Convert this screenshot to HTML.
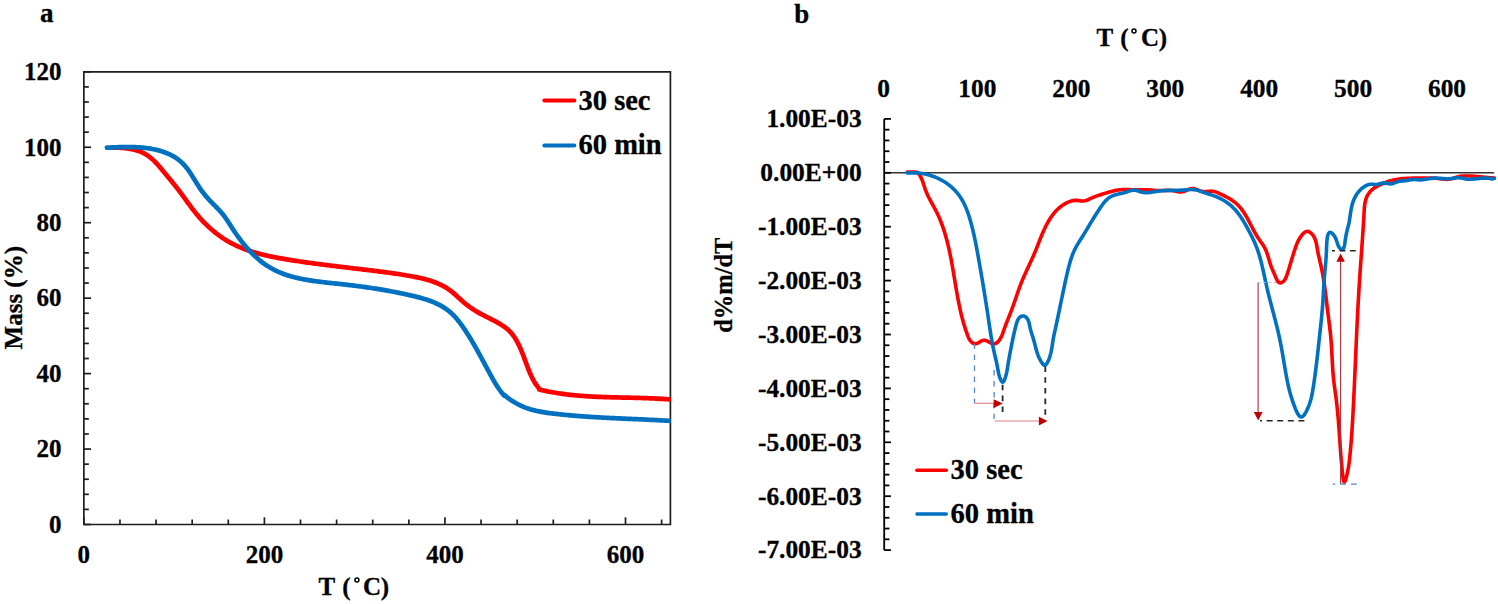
<!DOCTYPE html><html><head><meta charset="utf-8"><style>html,body{margin:0;padding:0;background:#fff;}svg{display:block;}text{font-family:"Liberation Serif",serif;font-weight:bold;fill:#000;stroke:#000;stroke-width:0.3;}</style></head><body>
<svg width="1498" height="604" viewBox="0 0 1498 604">
<rect width="1498" height="604" fill="#fff"/>
<g stroke="#1e1e1e" stroke-width="1.7" fill="none">
<path d="M83.85,71.80 V524.50 H670.40 V71.80 Z"/>
<path d="M83.85,524.50 h7.20"/>
<path d="M83.85,509.41 h5.00"/>
<path d="M83.85,494.32 h5.00"/>
<path d="M83.85,479.23 h5.00"/>
<path d="M83.85,464.14 h5.00"/>
<path d="M83.85,449.05 h7.20"/>
<path d="M83.85,433.96 h5.00"/>
<path d="M83.85,418.87 h5.00"/>
<path d="M83.85,403.78 h5.00"/>
<path d="M83.85,388.69 h5.00"/>
<path d="M83.85,373.60 h7.20"/>
<path d="M83.85,358.51 h5.00"/>
<path d="M83.85,343.42 h5.00"/>
<path d="M83.85,328.33 h5.00"/>
<path d="M83.85,313.24 h5.00"/>
<path d="M83.85,298.15 h7.20"/>
<path d="M83.85,283.06 h5.00"/>
<path d="M83.85,267.97 h5.00"/>
<path d="M83.85,252.88 h5.00"/>
<path d="M83.85,237.79 h5.00"/>
<path d="M83.85,222.70 h7.20"/>
<path d="M83.85,207.61 h5.00"/>
<path d="M83.85,192.52 h5.00"/>
<path d="M83.85,177.43 h5.00"/>
<path d="M83.85,162.34 h5.00"/>
<path d="M83.85,147.25 h7.20"/>
<path d="M83.85,132.16 h5.00"/>
<path d="M83.85,117.07 h5.00"/>
<path d="M83.85,101.98 h5.00"/>
<path d="M83.85,86.89 h5.00"/>
<path d="M83.85,71.80 h7.20"/>
<path d="M83.85,524.50 v-7.20"/>
<path d="M119.96,524.50 v-5.00"/>
<path d="M156.07,524.50 v-5.00"/>
<path d="M192.18,524.50 v-5.00"/>
<path d="M228.29,524.50 v-5.00"/>
<path d="M264.40,524.50 v-7.20"/>
<path d="M300.51,524.50 v-5.00"/>
<path d="M336.62,524.50 v-5.00"/>
<path d="M372.73,524.50 v-5.00"/>
<path d="M408.84,524.50 v-5.00"/>
<path d="M444.95,524.50 v-7.20"/>
<path d="M481.06,524.50 v-5.00"/>
<path d="M517.17,524.50 v-5.00"/>
<path d="M553.28,524.50 v-5.00"/>
<path d="M589.39,524.50 v-5.00"/>
<path d="M625.50,524.50 v-7.20"/>
<path d="M661.61,524.50 v-5.00"/>
</g>
<text x="61.50" y="532.80" font-size="25" text-anchor="end">0</text>
<text x="61.50" y="457.35" font-size="25" text-anchor="end">20</text>
<text x="61.50" y="381.90" font-size="25" text-anchor="end">40</text>
<text x="61.50" y="306.45" font-size="25" text-anchor="end">60</text>
<text x="61.50" y="231.00" font-size="25" text-anchor="end">80</text>
<text x="61.50" y="155.55" font-size="25" text-anchor="end">100</text>
<text x="61.50" y="80.10" font-size="25" text-anchor="end">120</text>
<text x="83.85" y="563.30" font-size="25" text-anchor="middle">0</text>
<text x="264.40" y="563.30" font-size="25" text-anchor="middle">200</text>
<text x="444.95" y="563.30" font-size="25" text-anchor="middle">400</text>
<text x="625.50" y="563.30" font-size="25" text-anchor="middle">600</text>
<clipPath id="ca"><rect x="0" y="0" width="670.70" height="604"/></clipPath>
<g fill="none" stroke-width="4.7" stroke-linecap="round" stroke-linejoin="round" clip-path="url(#ca)">
<path stroke="#ff0000" d="M111.89,147.64 L113.37,147.63 L114.87,147.64 L116.37,147.66 L117.89,147.70 L119.41,147.76 L120.94,147.84 L122.47,147.95 L124.01,148.08 L125.54,148.23 L127.06,148.42 L128.58,148.63 L130.10,148.88 L131.60,149.16 L133.09,149.47 L134.56,149.83 L136.01,150.22 L137.45,150.65 L138.86,151.12 L140.25,151.64 L141.61,152.20 L142.95,152.81 L144.25,153.47 L145.52,154.19 L146.75,154.95 L147.96,155.76 L149.13,156.61 L150.28,157.50 L151.40,158.44 L152.50,159.40 L153.57,160.40 L154.63,161.43 L155.67,162.49 L156.69,163.57 L157.70,164.67 L158.69,165.79 L159.68,166.93 L160.65,168.07 L161.63,169.23 L162.59,170.39 L163.56,171.56 L164.52,172.72 L165.48,173.89 L166.45,175.05 L167.41,176.22 L168.37,177.38 L169.34,178.54 L170.29,179.71 L171.25,180.87 L172.20,182.04 L173.15,183.20 L174.10,184.37 L175.04,185.55 L175.97,186.72 L176.90,187.90 L177.82,189.08 L178.74,190.27 L179.65,191.46 L180.54,192.65 L181.44,193.85 L182.32,195.05 L183.20,196.26 L184.08,197.47 L184.95,198.68 L185.83,199.89 L186.70,201.10 L187.57,202.31 L188.45,203.51 L189.33,204.72 L190.21,205.92 L191.10,207.12 L192.00,208.31 L192.91,209.50 L193.82,210.68 L194.75,211.85 L195.69,213.02 L196.64,214.18 L197.61,215.33 L198.58,216.46 L199.57,217.59 L200.58,218.71 L201.60,219.82 L202.63,220.92 L203.67,222.01 L204.72,223.08 L205.79,224.14 L206.87,225.19 L207.96,226.23 L209.07,227.25 L210.18,228.26 L211.31,229.26 L212.45,230.24 L213.60,231.20 L214.76,232.15 L215.94,233.09 L217.12,234.00 L218.32,234.90 L219.53,235.79 L220.74,236.65 L221.97,237.50 L223.21,238.33 L224.47,239.14 L225.73,239.93 L227.00,240.70 L228.28,241.45 L229.57,242.18 L230.88,242.89 L232.19,243.58 L233.51,244.25 L234.84,244.91 L236.18,245.54 L237.53,246.16 L238.88,246.76 L240.25,247.34 L241.62,247.91 L243.00,248.46 L244.39,248.99 L245.78,249.51 L247.18,250.02 L248.59,250.51 L250.01,250.98 L251.43,251.44 L252.85,251.89 L254.29,252.32 L255.72,252.74 L257.17,253.15 L258.61,253.55 L260.07,253.94 L261.52,254.31 L262.98,254.68 L264.45,255.03 L265.92,255.38 L267.39,255.71 L268.86,256.04 L270.34,256.35 L271.82,256.66 L273.30,256.96 L274.79,257.26 L276.28,257.54 L277.76,257.82 L279.25,258.10 L280.74,258.37 L282.24,258.63 L283.73,258.89 L285.22,259.14 L286.71,259.39 L288.20,259.63 L289.70,259.87 L291.19,260.11 L292.68,260.35 L294.17,260.58 L295.66,260.81 L297.15,261.04 L298.63,261.26 L300.12,261.48 L301.61,261.70 L303.10,261.92 L304.58,262.13 L306.07,262.34 L307.55,262.55 L309.04,262.76 L310.52,262.96 L312.01,263.17 L313.49,263.37 L314.97,263.57 L316.45,263.77 L317.94,263.96 L319.42,264.16 L320.90,264.35 L322.38,264.54 L323.87,264.73 L325.35,264.92 L326.83,265.10 L328.31,265.29 L329.79,265.47 L331.27,265.66 L332.75,265.84 L334.23,266.02 L335.71,266.20 L337.19,266.38 L338.68,266.56 L340.16,266.74 L341.64,266.91 L343.12,267.09 L344.60,267.27 L346.08,267.44 L347.56,267.62 L349.04,267.79 L350.52,267.97 L352.01,268.14 L353.49,268.32 L354.97,268.49 L356.45,268.67 L357.94,268.84 L359.42,269.02 L360.90,269.20 L362.39,269.37 L363.87,269.55 L365.36,269.73 L366.84,269.90 L368.33,270.08 L369.81,270.26 L371.30,270.44 L372.79,270.62 L374.27,270.80 L375.76,270.99 L377.25,271.17 L378.74,271.36 L380.23,271.55 L381.72,271.74 L383.21,271.93 L384.69,272.13 L386.18,272.32 L387.68,272.52 L389.17,272.73 L390.66,272.93 L392.15,273.14 L393.64,273.36 L395.13,273.58 L396.62,273.80 L398.11,274.02 L399.60,274.25 L401.09,274.48 L402.58,274.72 L404.07,274.97 L405.57,275.21 L407.06,275.47 L408.55,275.72 L410.04,275.99 L411.53,276.26 L413.02,276.53 L414.50,276.82 L415.99,277.11 L417.47,277.42 L418.95,277.73 L420.42,278.06 L421.89,278.40 L423.35,278.76 L424.81,279.13 L426.26,279.52 L427.70,279.92 L429.13,280.35 L430.56,280.79 L431.97,281.26 L433.37,281.74 L434.76,282.25 L436.14,282.79 L437.51,283.35 L438.86,283.94 L440.20,284.55 L441.52,285.19 L442.83,285.87 L444.13,286.57 L445.40,287.30 L446.66,288.07 L447.90,288.87 L449.12,289.71 L450.32,290.58 L451.51,291.49 L452.68,292.43 L453.83,293.39 L454.97,294.37 L456.11,295.37 L457.23,296.38 L458.36,297.40 L459.48,298.42 L460.60,299.44 L461.72,300.46 L462.85,301.46 L463.98,302.46 L465.12,303.43 L466.28,304.39 L467.45,305.31 L468.63,306.21 L469.82,307.09 L471.03,307.94 L472.26,308.77 L473.49,309.58 L474.74,310.37 L476.00,311.14 L477.28,311.89 L478.56,312.63 L479.86,313.36 L481.17,314.07 L482.49,314.77 L483.82,315.46 L485.16,316.15 L486.50,316.83 L487.85,317.51 L489.21,318.18 L490.56,318.86 L491.91,319.54 L493.25,320.23 L494.59,320.93 L495.91,321.63 L497.23,322.36 L498.52,323.09 L499.80,323.85 L501.06,324.62 L502.30,325.42 L503.52,326.24 L504.70,327.09 L505.86,327.97 L506.98,328.88 L508.07,329.82 L509.12,330.80 L510.14,331.82 L511.11,332.88 L512.04,333.98 L512.94,335.11 L513.80,336.28 L514.62,337.48 L515.42,338.71 L516.18,339.97 L516.92,341.26 L517.63,342.57 L518.32,343.90 L518.98,345.26 L519.63,346.64 L520.25,348.03 L520.86,349.44 L521.45,350.86 L522.03,352.30 L522.60,353.75 L523.16,355.20 L523.71,356.66 L524.25,358.12 L524.79,359.59 L525.33,361.06 L525.87,362.53 L526.41,363.99 L526.95,365.45 L527.50,366.91 L528.06,368.35 L528.62,369.79 L529.20,371.21 L529.79,372.62 L530.39,374.01 L531.01,375.38 L531.65,376.74 L532.30,378.07 L532.98,379.38 L533.68,380.66 L534.41,381.92 L535.17,383.15 L535.95,384.34 L536.77,385.51 L537.62,386.64 L538.50,387.73 L539.43,388.78 L539.33,389.55 L540.77,389.89 L542.22,390.23 L543.67,390.55 L545.11,390.86 L546.57,391.17 L548.02,391.46 L549.47,391.75 L550.93,392.02 L552.39,392.29 L553.85,392.54 L555.31,392.79 L556.77,393.03 L558.23,393.26 L559.69,393.48 L561.16,393.69 L562.63,393.89 L564.10,394.09 L565.56,394.28 L567.04,394.46 L568.51,394.63 L569.98,394.80 L571.45,394.96 L572.93,395.11 L574.40,395.26 L575.88,395.40 L577.36,395.53 L578.84,395.66 L580.32,395.78 L581.80,395.89 L583.28,396.00 L584.76,396.11 L586.24,396.21 L587.73,396.30 L589.21,396.39 L590.70,396.48 L592.18,396.56 L593.67,396.63 L595.15,396.71 L596.64,396.78 L598.13,396.84 L599.62,396.90 L601.11,396.96 L602.59,397.02 L604.08,397.07 L605.57,397.12 L607.06,397.17 L608.55,397.21 L610.04,397.26 L611.53,397.30 L613.02,397.34 L614.52,397.37 L616.01,397.41 L617.50,397.44 L618.99,397.48 L620.48,397.51 L621.97,397.54 L623.46,397.58 L624.95,397.61 L626.44,397.64 L627.94,397.67 L629.43,397.70 L630.92,397.74 L632.41,397.77 L633.90,397.80 L635.39,397.84 L636.88,397.88 L638.36,397.91 L639.85,397.95 L641.34,398.00 L642.83,398.04 L644.32,398.08 L645.80,398.13 L647.29,398.18 L648.77,398.23 L650.26,398.29 L651.74,398.35 L653.23,398.41 L654.71,398.48 L656.19,398.55 L657.67,398.62 L659.15,398.70 L660.63,398.78 L662.11,398.87 L663.59,398.96 L665.07,399.05 L666.54,399.15 L668.02,399.26 L669.49,399.37 L670.96,399.49"/>
<path stroke="#0070c0" d="M106.91,147.71 L108.30,147.64 L109.71,147.57 L111.14,147.49 L112.58,147.42 L114.03,147.36 L115.49,147.30 L116.97,147.24 L118.45,147.18 L119.95,147.14 L121.45,147.10 L122.96,147.07 L124.48,147.04 L126.01,147.03 L127.54,147.02 L129.07,147.03 L130.61,147.05 L132.15,147.08 L133.70,147.12 L135.24,147.18 L136.78,147.25 L138.33,147.34 L139.87,147.44 L141.41,147.56 L142.94,147.70 L144.47,147.86 L146.00,148.03 L147.52,148.23 L149.04,148.45 L150.54,148.69 L152.04,148.95 L153.53,149.23 L155.01,149.54 L156.47,149.87 L157.93,150.23 L159.37,150.62 L160.80,151.03 L162.22,151.47 L163.62,151.94 L165.00,152.44 L166.37,152.97 L167.71,153.52 L169.04,154.12 L170.35,154.74 L171.64,155.40 L172.91,156.09 L174.16,156.81 L175.38,157.58 L176.58,158.37 L177.75,159.21 L178.90,160.08 L180.02,160.99 L181.12,161.95 L182.18,162.94 L183.22,163.97 L184.23,165.04 L185.21,166.16 L186.16,167.31 L187.09,168.49 L187.99,169.71 L188.88,170.94 L189.75,172.21 L190.60,173.49 L191.44,174.78 L192.28,176.09 L193.10,177.41 L193.92,178.73 L194.73,180.05 L195.54,181.37 L196.36,182.69 L197.17,184.00 L198.00,185.29 L198.83,186.57 L199.67,187.83 L200.52,189.07 L201.38,190.30 L202.26,191.50 L203.15,192.68 L204.06,193.85 L204.98,195.01 L205.92,196.15 L206.88,197.27 L207.86,198.38 L208.85,199.48 L209.87,200.57 L210.90,201.66 L211.94,202.73 L212.99,203.80 L214.05,204.87 L215.10,205.94 L216.16,207.01 L217.20,208.09 L218.24,209.17 L219.27,210.26 L220.28,211.36 L221.27,212.48 L222.24,213.61 L223.18,214.76 L224.09,215.92 L224.97,217.11 L225.83,218.31 L226.67,219.53 L227.49,220.75 L228.30,221.99 L229.10,223.24 L229.90,224.49 L230.69,225.75 L231.49,227.01 L232.30,228.27 L233.11,229.52 L233.94,230.78 L234.78,232.03 L235.63,233.28 L236.49,234.52 L237.36,235.75 L238.25,236.98 L239.14,238.21 L240.05,239.42 L240.97,240.63 L241.90,241.83 L242.85,243.02 L243.80,244.20 L244.77,245.37 L245.75,246.53 L246.74,247.68 L247.75,248.81 L248.76,249.93 L249.79,251.04 L250.83,252.13 L251.89,253.21 L252.95,254.27 L254.03,255.31 L255.12,256.34 L256.23,257.35 L257.34,258.34 L258.47,259.31 L259.61,260.26 L260.77,261.20 L261.94,262.11 L263.12,263.00 L264.31,263.86 L265.52,264.71 L266.74,265.53 L267.97,266.33 L269.22,267.10 L270.48,267.84 L271.75,268.56 L273.04,269.26 L274.34,269.93 L275.65,270.57 L276.97,271.20 L278.31,271.80 L279.66,272.37 L281.01,272.93 L282.38,273.47 L283.76,273.98 L285.15,274.47 L286.54,274.95 L287.95,275.41 L289.36,275.84 L290.79,276.26 L292.22,276.67 L293.66,277.05 L295.11,277.43 L296.56,277.78 L298.02,278.12 L299.49,278.45 L300.96,278.76 L302.44,279.06 L303.92,279.35 L305.41,279.63 L306.91,279.89 L308.40,280.14 L309.91,280.39 L311.41,280.62 L312.92,280.85 L314.43,281.06 L315.95,281.27 L317.47,281.47 L318.99,281.67 L320.51,281.86 L322.03,282.04 L323.55,282.22 L325.07,282.40 L326.60,282.57 L328.12,282.73 L329.64,282.90 L331.17,283.06 L332.69,283.22 L334.21,283.38 L335.73,283.54 L337.24,283.70 L338.75,283.86 L340.26,284.03 L341.77,284.19 L343.27,284.36 L344.78,284.53 L346.27,284.70 L347.77,284.87 L349.26,285.05 L350.75,285.22 L352.24,285.40 L353.72,285.59 L355.21,285.77 L356.69,285.96 L358.17,286.15 L359.64,286.35 L361.12,286.54 L362.59,286.74 L364.06,286.95 L365.53,287.15 L367.00,287.36 L368.47,287.57 L369.94,287.79 L371.40,288.01 L372.87,288.23 L374.33,288.46 L375.79,288.69 L377.25,288.92 L378.72,289.16 L380.18,289.40 L381.64,289.64 L383.10,289.89 L384.56,290.14 L386.02,290.40 L387.48,290.66 L388.94,290.92 L390.40,291.19 L391.86,291.46 L393.32,291.74 L394.78,292.02 L396.25,292.31 L397.71,292.60 L399.18,292.90 L400.64,293.20 L402.11,293.50 L403.58,293.81 L405.05,294.13 L406.52,294.45 L407.99,294.77 L409.46,295.10 L410.94,295.44 L412.42,295.78 L413.89,296.13 L415.37,296.49 L416.84,296.86 L418.31,297.24 L419.78,297.63 L421.24,298.03 L422.70,298.45 L424.15,298.88 L425.59,299.33 L427.02,299.79 L428.45,300.28 L429.86,300.78 L431.27,301.31 L432.66,301.85 L434.04,302.42 L435.40,303.01 L436.76,303.63 L438.09,304.27 L439.41,304.94 L440.71,305.64 L442.00,306.36 L443.26,307.12 L444.51,307.91 L445.73,308.73 L446.93,309.58 L448.11,310.47 L449.27,311.39 L450.40,312.35 L451.51,313.35 L452.59,314.38 L453.65,315.44 L454.69,316.53 L455.71,317.65 L456.70,318.79 L457.68,319.96 L458.64,321.15 L459.58,322.35 L460.51,323.58 L461.42,324.82 L462.31,326.07 L463.19,327.33 L464.05,328.59 L464.91,329.87 L465.75,331.15 L466.58,332.42 L467.40,333.70 L468.21,334.99 L469.01,336.27 L469.80,337.55 L470.58,338.83 L471.36,340.12 L472.12,341.41 L472.88,342.69 L473.64,343.98 L474.38,345.27 L475.12,346.56 L475.86,347.86 L476.59,349.15 L477.31,350.45 L478.03,351.74 L478.75,353.04 L479.46,354.34 L480.17,355.64 L480.88,356.94 L481.59,358.25 L482.29,359.55 L483.00,360.86 L483.70,362.16 L484.40,363.47 L485.10,364.78 L485.81,366.10 L486.51,367.41 L487.22,368.73 L487.93,370.04 L488.64,371.36 L489.35,372.68 L490.07,374.01 L490.79,375.33 L491.52,376.65 L492.25,377.97 L492.99,379.29 L493.74,380.61 L494.50,381.91 L495.28,383.21 L496.06,384.50 L496.86,385.78 L497.68,387.04 L498.52,388.30 L499.37,389.53 L500.25,390.75 L501.14,391.95 L502.06,393.13 L503.00,394.29 L503.97,395.43 L504.16,394.90 L505.36,395.90 L506.57,396.87 L507.79,397.81 L509.02,398.73 L510.26,399.61 L511.51,400.46 L512.78,401.28 L514.05,402.07 L515.34,402.83 L516.63,403.56 L517.94,404.27 L519.26,404.94 L520.59,405.58 L521.93,406.19 L523.29,406.77 L524.65,407.32 L526.02,407.84 L527.40,408.33 L528.79,408.80 L530.19,409.23 L531.60,409.64 L533.02,410.03 L534.45,410.39 L535.88,410.74 L537.32,411.06 L538.77,411.36 L540.22,411.64 L541.67,411.91 L543.14,412.16 L544.60,412.40 L546.07,412.63 L547.54,412.84 L549.02,413.05 L550.50,413.24 L551.97,413.43 L553.46,413.61 L554.94,413.78 L556.42,413.95 L557.90,414.12 L559.38,414.28 L560.87,414.44 L562.35,414.59 L563.83,414.74 L565.32,414.89 L566.80,415.03 L568.29,415.17 L569.77,415.31 L571.26,415.44 L572.75,415.57 L574.23,415.70 L575.72,415.82 L577.21,415.94 L578.69,416.06 L580.18,416.18 L581.67,416.29 L583.16,416.40 L584.64,416.50 L586.13,416.61 L587.62,416.71 L589.11,416.80 L590.60,416.90 L592.09,417.00 L593.58,417.09 L595.06,417.18 L596.55,417.27 L598.04,417.35 L599.53,417.44 L601.02,417.52 L602.51,417.60 L604.00,417.68 L605.49,417.76 L606.98,417.83 L608.47,417.91 L609.96,417.98 L611.45,418.05 L612.94,418.13 L614.44,418.20 L615.93,418.27 L617.42,418.33 L618.91,418.40 L620.40,418.47 L621.89,418.54 L623.38,418.60 L624.87,418.67 L626.36,418.73 L627.85,418.80 L629.34,418.86 L630.83,418.93 L632.32,418.99 L633.81,419.06 L635.30,419.12 L636.78,419.19 L638.27,419.26 L639.76,419.32 L641.25,419.39 L642.74,419.46 L644.23,419.52 L645.72,419.59 L647.20,419.66 L648.69,419.73 L650.18,419.80 L651.67,419.88 L653.15,419.95 L654.64,420.02 L656.13,420.10 L657.61,420.18 L659.10,420.26 L660.59,420.34 L662.07,420.42 L663.56,420.50 L665.04,420.59 L666.52,420.67 L668.01,420.76 L669.49,420.86 L670.97,420.95"/>
</g>
<g stroke-width="4" stroke-linecap="round">
<path stroke="#ff0000" d="M544.40,100.60 H574.30"/>
<path stroke="#0070c0" d="M544.40,145.40 H574.30"/>
</g>
<text x="578.50" y="109.60" font-size="28.5">30 sec</text>
<text x="578.50" y="153.50" font-size="28.5">60 min</text>
<text x="40.00" y="22.30" font-size="27">a</text>
<text x="326.80" y="594.60" font-size="25" text-anchor="middle">T</text>
<text x="346.50" y="594.60" font-size="25" text-anchor="middle">(</text>
<text x="372.00" y="594.60" font-size="25" text-anchor="middle">C</text>
<text x="384.95" y="594.60" font-size="25" text-anchor="middle">)</text>
<circle cx="356.90" cy="579.90" r="2.0" fill="none" stroke="#000" stroke-width="1.5"/>
<text transform="translate(22.00,297.70) rotate(-90)" font-size="25" text-anchor="middle">Mass (%)</text>
<path d="M884.20,172.80 H1494.20" stroke="#333" stroke-width="1.5"/>
<g stroke="#000" stroke-width="1.8" fill="none">
<path d="M884.20,118.90 V550.10"/>
<path d="M884.20,118.90 h6.70"/>
<path d="M884.20,129.68 h5.20"/>
<path d="M884.20,140.46 h5.20"/>
<path d="M884.20,151.24 h5.20"/>
<path d="M884.20,162.02 h5.20"/>
<path d="M884.20,172.80 h6.70"/>
<path d="M884.20,183.58 h5.20"/>
<path d="M884.20,194.36 h5.20"/>
<path d="M884.20,205.14 h5.20"/>
<path d="M884.20,215.92 h5.20"/>
<path d="M884.20,226.70 h6.70"/>
<path d="M884.20,237.48 h5.20"/>
<path d="M884.20,248.26 h5.20"/>
<path d="M884.20,259.04 h5.20"/>
<path d="M884.20,269.82 h5.20"/>
<path d="M884.20,280.60 h6.70"/>
<path d="M884.20,291.38 h5.20"/>
<path d="M884.20,302.16 h5.20"/>
<path d="M884.20,312.94 h5.20"/>
<path d="M884.20,323.72 h5.20"/>
<path d="M884.20,334.50 h6.70"/>
<path d="M884.20,345.28 h5.20"/>
<path d="M884.20,356.06 h5.20"/>
<path d="M884.20,366.84 h5.20"/>
<path d="M884.20,377.62 h5.20"/>
<path d="M884.20,388.40 h6.70"/>
<path d="M884.20,399.18 h5.20"/>
<path d="M884.20,409.96 h5.20"/>
<path d="M884.20,420.74 h5.20"/>
<path d="M884.20,431.52 h5.20"/>
<path d="M884.20,442.30 h6.70"/>
<path d="M884.20,453.08 h5.20"/>
<path d="M884.20,463.86 h5.20"/>
<path d="M884.20,474.64 h5.20"/>
<path d="M884.20,485.42 h5.20"/>
<path d="M884.20,496.20 h6.70"/>
<path d="M884.20,506.98 h5.20"/>
<path d="M884.20,517.76 h5.20"/>
<path d="M884.20,528.54 h5.20"/>
<path d="M884.20,539.32 h5.20"/>
<path d="M884.20,550.10 h6.70"/>
</g>
<text x="861.60" y="127.20" font-size="25.4" text-anchor="end">1.00E-03</text>
<text x="861.60" y="181.10" font-size="25.4" text-anchor="end">0.00E+00</text>
<text x="861.60" y="235.00" font-size="25.4" text-anchor="end">-1.00E-03</text>
<text x="861.60" y="288.90" font-size="25.4" text-anchor="end">-2.00E-03</text>
<text x="861.60" y="342.80" font-size="25.4" text-anchor="end">-3.00E-03</text>
<text x="861.60" y="396.70" font-size="25.4" text-anchor="end">-4.00E-03</text>
<text x="861.60" y="450.60" font-size="25.4" text-anchor="end">-5.00E-03</text>
<text x="861.60" y="504.50" font-size="25.4" text-anchor="end">-6.00E-03</text>
<text x="861.60" y="558.40" font-size="25.4" text-anchor="end">-7.00E-03</text>
<text x="883.50" y="97.00" font-size="25.4" text-anchor="middle">0</text>
<text x="977.42" y="97.00" font-size="25.4" text-anchor="middle">100</text>
<text x="1071.34" y="97.00" font-size="25.4" text-anchor="middle">200</text>
<text x="1165.26" y="97.00" font-size="25.4" text-anchor="middle">300</text>
<text x="1259.18" y="97.00" font-size="25.4" text-anchor="middle">400</text>
<text x="1353.10" y="97.00" font-size="25.4" text-anchor="middle">500</text>
<text x="1447.02" y="97.00" font-size="25.4" text-anchor="middle">600</text>
<g fill="none" stroke-width="3.6" stroke-linecap="round" stroke-linejoin="round">
<path stroke="#ff0000" d="M907.30,172.00 L915.40,172.10 L915.42,172.07 L917.02,172.34 L918.22,173.17 L919.15,174.31 L919.95,175.55 L920.67,176.84 L921.32,178.17 L921.91,179.53 L922.46,180.92 L922.97,182.33 L923.45,183.76 L923.91,185.20 L924.38,186.64 L924.85,188.08 L925.34,189.51 L925.86,190.92 L926.41,192.32 L927.00,193.70 L927.62,195.07 L928.27,196.42 L928.93,197.77 L929.62,199.10 L930.32,200.43 L931.03,201.75 L931.76,203.06 L932.48,204.37 L933.21,205.69 L933.93,207.00 L934.65,208.32 L935.35,209.64 L936.05,210.97 L936.72,212.30 L937.38,213.65 L938.02,215.00 L938.64,216.36 L939.24,217.73 L939.83,219.11 L940.40,220.49 L940.95,221.88 L941.49,223.28 L942.01,224.68 L942.52,226.09 L943.02,227.51 L943.50,228.93 L943.97,230.35 L944.42,231.78 L944.86,233.21 L945.29,234.65 L945.71,236.09 L946.12,237.53 L946.51,238.98 L946.90,240.43 L947.27,241.88 L947.64,243.33 L948.00,244.79 L948.34,246.25 L948.68,247.71 L949.01,249.17 L949.33,250.63 L949.65,252.10 L949.96,253.57 L950.26,255.04 L950.55,256.51 L950.84,257.98 L951.12,259.45 L951.40,260.93 L951.68,262.40 L951.94,263.88 L952.21,265.36 L952.47,266.83 L952.73,268.31 L952.98,269.79 L953.24,271.27 L953.49,272.75 L953.74,274.23 L953.98,275.71 L954.23,277.19 L954.47,278.68 L954.72,280.16 L954.97,281.64 L955.21,283.12 L955.46,284.60 L955.71,286.08 L955.96,287.56 L956.21,289.04 L956.46,290.52 L956.72,292.00 L956.98,293.47 L957.25,294.95 L957.52,296.42 L957.79,297.90 L958.07,299.37 L958.35,300.84 L958.64,302.31 L958.93,303.78 L959.23,305.24 L959.54,306.71 L959.85,308.17 L960.17,309.63 L960.50,311.09 L960.84,312.55 L961.18,314.00 L961.54,315.45 L961.90,316.90 L962.28,318.35 L962.66,319.80 L963.06,321.24 L963.46,322.68 L963.88,324.11 L964.30,325.55 L964.74,326.98 L965.20,328.41 L965.66,329.83 L966.14,331.25 L966.63,332.67 L967.14,334.08 L967.66,335.49 L968.21,336.89 L968.82,338.27 L969.55,339.60 L970.43,340.86 L971.50,342.04 L972.73,343.02 L974.07,343.66 L975.45,343.83 L976.86,343.54 L978.26,342.91 L979.64,342.05 L981.01,341.18 L982.37,340.49 L983.73,340.20 L985.09,340.29 L986.45,340.69 L987.83,341.32 L989.23,342.10 L990.65,342.92 L992.08,343.61 L993.48,343.95 L994.83,343.81 L996.11,343.25 L997.31,342.38 L998.40,341.29 L999.37,340.08 L1000.21,338.82 L1000.95,337.51 L1001.60,336.16 L1002.18,334.77 L1002.72,333.37 L1003.21,331.95 L1003.70,330.53 L1004.19,329.11 L1004.69,327.70 L1005.21,326.29 L1005.74,324.88 L1006.28,323.48 L1006.82,322.09 L1007.37,320.69 L1007.93,319.30 L1008.48,317.91 L1009.04,316.52 L1009.59,315.12 L1010.15,313.73 L1010.69,312.34 L1011.23,310.94 L1011.76,309.54 L1012.28,308.13 L1012.79,306.72 L1013.30,305.31 L1013.80,303.90 L1014.29,302.48 L1014.78,301.07 L1015.27,299.65 L1015.75,298.23 L1016.24,296.81 L1016.72,295.39 L1017.21,293.97 L1017.70,292.55 L1018.19,291.14 L1018.69,289.73 L1019.20,288.32 L1019.72,286.91 L1020.24,285.50 L1020.78,284.10 L1021.32,282.71 L1021.88,281.32 L1022.45,279.93 L1023.04,278.55 L1023.63,277.18 L1024.24,275.81 L1024.85,274.44 L1025.47,273.07 L1026.09,271.71 L1026.72,270.35 L1027.35,268.99 L1027.99,267.63 L1028.62,266.27 L1029.26,264.91 L1029.89,263.55 L1030.53,262.19 L1031.15,260.83 L1031.78,259.47 L1032.39,258.11 L1033.00,256.75 L1033.60,255.38 L1034.20,254.01 L1034.78,252.63 L1035.34,251.25 L1035.91,249.87 L1036.46,248.48 L1037.01,247.10 L1037.55,245.71 L1038.09,244.32 L1038.64,242.92 L1039.18,241.53 L1039.73,240.14 L1040.28,238.74 L1040.84,237.35 L1041.41,235.96 L1041.99,234.56 L1042.58,233.17 L1043.18,231.79 L1043.79,230.40 L1044.43,229.03 L1045.08,227.66 L1045.74,226.30 L1046.43,224.95 L1047.13,223.62 L1047.86,222.30 L1048.61,221.00 L1049.39,219.71 L1050.19,218.45 L1051.02,217.20 L1051.88,215.98 L1052.76,214.79 L1053.68,213.61 L1054.63,212.47 L1055.61,211.36 L1056.62,210.28 L1057.67,209.24 L1058.76,208.23 L1059.89,207.26 L1061.06,206.34 L1062.26,205.46 L1063.52,204.63 L1064.81,203.85 L1066.15,203.12 L1067.54,202.44 L1068.96,201.83 L1070.42,201.30 L1071.90,200.88 L1073.40,200.56 L1074.90,200.37 L1076.40,200.33 L1077.89,200.44 L1079.37,200.64 L1080.84,200.85 L1082.29,200.99 L1083.73,200.98 L1085.15,200.76 L1086.55,200.35 L1087.95,199.80 L1089.34,199.16 L1090.73,198.49 L1092.12,197.84 L1093.52,197.24 L1094.92,196.68 L1096.32,196.15 L1097.73,195.66 L1099.14,195.18 L1100.56,194.72 L1101.98,194.28 L1103.40,193.83 L1104.83,193.39 L1106.27,192.95 L1107.70,192.52 L1109.14,192.10 L1110.59,191.70 L1112.04,191.32 L1113.50,190.96 L1114.96,190.63 L1116.42,190.34 L1117.89,190.08 L1119.37,189.86 L1120.85,189.68 L1122.34,189.55 L1123.83,189.48 L1125.33,189.46 L1126.83,189.49 L1128.34,189.56 L1129.84,189.65 L1131.35,189.74 L1132.86,189.80 L1134.36,189.84 L1135.87,189.85 L1137.36,189.83 L1138.86,189.81 L1140.36,189.78 L1141.85,189.75 L1143.35,189.73 L1144.84,189.73 L1146.33,189.76 L1147.83,189.81 L1149.32,189.91 L1150.82,190.03 L1152.31,190.16 L1153.81,190.29 L1155.31,190.42 L1156.80,190.52 L1158.30,190.58 L1159.80,190.60 L1161.29,190.57 L1162.79,190.51 L1164.29,190.44 L1165.79,190.37 L1167.29,190.33 L1168.79,190.32 L1170.29,190.38 L1171.79,190.51 L1173.29,190.74 L1174.79,191.04 L1176.29,191.36 L1177.79,191.65 L1179.27,191.86 L1180.75,191.93 L1182.22,191.82 L1183.67,191.48 L1185.10,190.96 L1186.53,190.34 L1187.95,189.71 L1189.36,189.15 L1190.77,188.72 L1192.18,188.52 L1193.59,188.61 L1195.00,188.93 L1196.42,189.42 L1197.84,190.00 L1199.29,190.58 L1200.74,191.09 L1202.22,191.46 L1203.72,191.62 L1205.23,191.61 L1206.74,191.50 L1208.26,191.34 L1209.76,191.20 L1211.25,191.15 L1212.71,191.23 L1214.14,191.49 L1215.54,191.89 L1216.93,192.41 L1218.31,193.00 L1219.69,193.63 L1221.07,194.28 L1222.45,194.95 L1223.82,195.62 L1225.19,196.31 L1226.55,197.02 L1227.89,197.76 L1229.21,198.51 L1230.51,199.30 L1231.78,200.11 L1233.02,200.96 L1234.22,201.84 L1235.38,202.76 L1236.49,203.73 L1237.56,204.73 L1238.59,205.78 L1239.58,206.86 L1240.53,207.98 L1241.45,209.13 L1242.34,210.31 L1243.19,211.51 L1244.02,212.75 L1244.83,214.00 L1245.61,215.27 L1246.37,216.57 L1247.12,217.88 L1247.85,219.20 L1248.57,220.53 L1249.28,221.87 L1249.99,223.22 L1250.69,224.57 L1251.38,225.93 L1252.08,227.28 L1252.78,228.63 L1253.49,229.97 L1254.20,231.31 L1254.93,232.64 L1255.67,233.95 L1256.42,235.25 L1257.20,236.53 L1257.99,237.79 L1258.81,239.04 L1259.64,240.25 L1260.50,241.46 L1261.35,242.66 L1262.20,243.86 L1263.02,245.08 L1263.81,246.32 L1264.56,247.60 L1265.25,248.92 L1265.88,250.28 L1266.45,251.68 L1266.98,253.11 L1267.48,254.56 L1267.94,256.03 L1268.39,257.51 L1268.82,258.99 L1269.24,260.46 L1269.67,261.92 L1270.11,263.35 L1270.58,264.76 L1271.06,266.13 L1271.57,267.48 L1272.10,268.82 L1272.66,270.16 L1273.23,271.51 L1273.83,272.88 L1274.44,274.28 L1275.07,275.72 L1275.71,277.21 L1276.37,278.76 L1277.08,280.28 L1277.89,281.59 L1278.85,282.52 L1280.04,282.88 L1281.42,282.61 L1282.79,281.89 L1283.96,280.90 L1284.89,279.72 L1285.62,278.42 L1286.22,277.02 L1286.73,275.57 L1287.22,274.11 L1287.69,272.65 L1288.15,271.19 L1288.61,269.74 L1289.06,268.28 L1289.50,266.83 L1289.94,265.38 L1290.37,263.93 L1290.81,262.49 L1291.24,261.05 L1291.67,259.61 L1292.10,258.18 L1292.53,256.76 L1292.97,255.34 L1293.41,253.92 L1293.85,252.51 L1294.31,251.11 L1294.77,249.71 L1295.24,248.32 L1295.72,246.94 L1296.22,245.56 L1296.75,244.19 L1297.31,242.83 L1297.93,241.48 L1298.60,240.13 L1299.34,238.79 L1300.17,237.46 L1301.08,236.13 L1302.10,234.81 L1303.22,233.57 L1304.42,232.50 L1305.68,231.73 L1306.99,231.36 L1308.33,231.50 L1309.65,232.10 L1310.92,233.04 L1312.08,234.20 L1313.09,235.46 L1313.93,236.76 L1314.64,238.12 L1315.22,239.51 L1315.70,240.93 L1316.10,242.38 L1316.43,243.85 L1316.71,245.34 L1316.96,246.83 L1317.20,248.33 L1317.45,249.82 L1317.72,251.31 L1318.00,252.79 L1318.31,254.26 L1318.62,255.73 L1318.95,257.19 L1319.29,258.65 L1319.63,260.11 L1319.97,261.57 L1320.32,263.02 L1320.66,264.48 L1320.99,265.94 L1321.31,267.39 L1321.63,268.86 L1321.93,270.32 L1322.22,271.79 L1322.50,273.26 L1322.77,274.73 L1323.03,276.20 L1323.29,277.68 L1323.53,279.16 L1323.77,280.64 L1324.00,282.12 L1324.22,283.60 L1324.44,285.09 L1324.65,286.57 L1324.85,288.06 L1325.05,289.55 L1325.25,291.04 L1325.44,292.53 L1325.62,294.02 L1325.81,295.51 L1325.99,297.00 L1326.17,298.49 L1326.35,299.98 L1326.53,301.47 L1326.70,302.96 L1326.88,304.45 L1327.06,305.94 L1327.23,307.43 L1327.41,308.92 L1327.59,310.41 L1327.78,311.89 L1327.96,313.38 L1328.15,314.86 L1328.34,316.35 L1328.53,317.83 L1328.72,319.31 L1328.91,320.80 L1329.10,322.28 L1329.28,323.76 L1329.47,325.25 L1329.65,326.73 L1329.82,328.22 L1330.00,329.70 L1330.17,331.19 L1330.33,332.68 L1330.49,334.17 L1330.64,335.67 L1330.78,337.16 L1330.92,338.66 L1331.04,340.17 L1331.16,341.67 L1331.27,343.18 L1331.38,344.68 L1331.48,346.19 L1331.57,347.71 L1331.66,349.22 L1331.74,350.73 L1331.83,352.25 L1331.90,353.76 L1331.98,355.27 L1332.06,356.79 L1332.13,358.30 L1332.21,359.81 L1332.29,361.32 L1332.37,362.83 L1332.45,364.33 L1332.53,365.84 L1332.62,367.34 L1332.72,368.84 L1332.82,370.33 L1332.92,371.82 L1333.04,373.31 L1333.16,374.79 L1333.29,376.27 L1333.42,377.74 L1333.57,379.21 L1333.73,380.67 L1333.90,382.12 L1334.08,383.58 L1334.27,385.03 L1334.46,386.47 L1334.66,387.92 L1334.86,389.37 L1335.06,390.82 L1335.27,392.27 L1335.47,393.72 L1335.68,395.18 L1335.88,396.65 L1336.07,398.13 L1336.26,399.61 L1336.44,401.10 L1336.62,402.60 L1336.79,404.11 L1336.96,405.62 L1337.12,407.14 L1337.28,408.66 L1337.44,410.19 L1337.58,411.72 L1337.73,413.25 L1337.87,414.79 L1338.01,416.32 L1338.14,417.86 L1338.27,419.40 L1338.40,420.93 L1338.52,422.47 L1338.64,424.00 L1338.76,425.53 L1338.87,427.06 L1338.98,428.59 L1339.10,430.11 L1339.20,431.62 L1339.31,433.13 L1339.41,434.64 L1339.52,436.13 L1339.62,437.62 L1339.72,439.10 L1339.82,440.57 L1339.92,442.03 L1340.02,443.48 L1340.12,444.92 L1340.21,446.35 L1340.31,447.77 L1340.41,449.17 L1340.51,450.56 L1340.61,451.94 L1340.71,453.30 L1340.81,454.65 L1340.91,456.00 L1341.02,457.36 L1341.13,458.75 L1341.25,460.16 L1341.37,461.61 L1341.51,463.11 L1341.65,464.67 L1341.80,466.29 L1341.96,467.99 L1342.14,469.78 L1342.33,471.66 L1342.54,473.65 L1342.76,475.65 L1343.01,477.57 L1343.28,479.27 L1343.59,480.65 L1343.93,481.59 L1344.31,481.97 L1344.73,481.69 L1345.19,480.82 L1345.66,479.50 L1346.14,477.87 L1346.60,476.08 L1347.03,474.25 L1347.42,472.49 L1347.77,470.79 L1348.08,469.15 L1348.37,467.56 L1348.63,466.01 L1348.86,464.50 L1349.07,463.03 L1349.26,461.58 L1349.43,460.14 L1349.59,458.72 L1349.75,457.31 L1349.89,455.89 L1350.04,454.47 L1350.18,453.04 L1350.31,451.61 L1350.45,450.17 L1350.58,448.73 L1350.70,447.28 L1350.83,445.83 L1350.95,444.37 L1351.07,442.91 L1351.19,441.44 L1351.30,439.97 L1351.41,438.49 L1351.52,437.02 L1351.63,435.53 L1351.73,434.05 L1351.84,432.56 L1351.94,431.07 L1352.04,429.58 L1352.13,428.08 L1352.23,426.58 L1352.32,425.08 L1352.41,423.58 L1352.50,422.07 L1352.59,420.57 L1352.68,419.06 L1352.76,417.55 L1352.85,416.05 L1352.93,414.54 L1353.01,413.03 L1353.09,411.52 L1353.17,410.01 L1353.25,408.50 L1353.33,406.99 L1353.40,405.48 L1353.48,403.97 L1353.56,402.46 L1353.63,400.95 L1353.70,399.45 L1353.78,397.94 L1353.85,396.43 L1353.92,394.93 L1353.99,393.42 L1354.07,391.92 L1354.14,390.41 L1354.21,388.91 L1354.28,387.41 L1354.35,385.90 L1354.41,384.40 L1354.48,382.90 L1354.55,381.40 L1354.62,379.89 L1354.69,378.39 L1354.75,376.89 L1354.82,375.39 L1354.89,373.89 L1354.95,372.39 L1355.02,370.89 L1355.08,369.39 L1355.15,367.89 L1355.21,366.39 L1355.28,364.90 L1355.34,363.40 L1355.41,361.90 L1355.48,360.40 L1355.54,358.91 L1355.61,357.41 L1355.67,355.91 L1355.74,354.42 L1355.80,352.92 L1355.87,351.42 L1355.93,349.93 L1356.00,348.43 L1356.06,346.94 L1356.13,345.44 L1356.19,343.94 L1356.26,342.45 L1356.33,340.96 L1356.39,339.46 L1356.46,337.97 L1356.53,336.47 L1356.60,334.98 L1356.67,333.48 L1356.73,331.99 L1356.80,330.50 L1356.87,329.00 L1356.94,327.51 L1357.01,326.01 L1357.09,324.52 L1357.16,323.03 L1357.23,321.53 L1357.30,320.04 L1357.38,318.55 L1357.45,317.05 L1357.53,315.56 L1357.60,314.07 L1357.68,312.57 L1357.75,311.08 L1357.83,309.59 L1357.91,308.09 L1357.99,306.60 L1358.07,305.11 L1358.15,303.61 L1358.23,302.12 L1358.32,300.63 L1358.40,299.13 L1358.49,297.64 L1358.57,296.15 L1358.66,294.65 L1358.75,293.16 L1358.84,291.67 L1358.93,290.17 L1359.02,288.68 L1359.11,287.18 L1359.20,285.69 L1359.30,284.20 L1359.39,282.70 L1359.49,281.21 L1359.59,279.71 L1359.69,278.22 L1359.79,276.72 L1359.89,275.23 L1359.99,273.73 L1360.09,272.23 L1360.19,270.74 L1360.30,269.24 L1360.40,267.75 L1360.51,266.25 L1360.61,264.75 L1360.71,263.26 L1360.82,261.76 L1360.93,260.26 L1361.03,258.76 L1361.14,257.27 L1361.24,255.77 L1361.35,254.27 L1361.46,252.77 L1361.56,251.27 L1361.67,249.78 L1361.77,248.28 L1361.88,246.78 L1361.98,245.28 L1362.09,243.78 L1362.19,242.28 L1362.30,240.78 L1362.40,239.28 L1362.50,237.78 L1362.61,236.28 L1362.71,234.78 L1362.81,233.28 L1362.91,231.77 L1363.01,230.27 L1363.11,228.77 L1363.20,227.27 L1363.30,225.76 L1363.40,224.26 L1363.49,222.76 L1363.58,221.26 L1363.68,219.75 L1363.77,218.25 L1363.85,216.74 L1363.94,215.24 L1364.03,213.73 L1364.11,212.23 L1364.20,210.72 L1364.29,209.22 L1364.39,207.72 L1364.53,206.23 L1364.70,204.75 L1364.92,203.28 L1365.19,201.82 L1365.54,200.39 L1365.96,198.98 L1366.47,197.59 L1367.08,196.22 L1367.80,194.89 L1368.63,193.60 L1369.54,192.36 L1370.55,191.18 L1371.63,190.08 L1372.76,189.07 L1373.95,188.16 L1375.19,187.34 L1376.46,186.59 L1377.77,185.90 L1379.10,185.25 L1380.46,184.61 L1381.83,183.99 L1383.22,183.39 L1384.62,182.81 L1386.04,182.25 L1387.46,181.73 L1388.90,181.25 L1390.34,180.80 L1391.79,180.41 L1393.25,180.05 L1394.71,179.73 L1396.17,179.45 L1397.64,179.21 L1399.12,179.00 L1400.60,178.82 L1402.08,178.66 L1403.57,178.54 L1405.06,178.43 L1406.55,178.35 L1408.05,178.28 L1409.54,178.23 L1411.04,178.19 L1412.54,178.17 L1414.04,178.15 L1415.54,178.14 L1417.05,178.13 L1418.55,178.12 L1420.05,178.12 L1421.55,178.11 L1423.05,178.09 L1424.55,178.07 L1426.04,178.04 L1427.54,178.03 L1429.04,178.02 L1430.53,178.02 L1432.03,178.05 L1433.53,178.11 L1435.04,178.19 L1436.54,178.31 L1438.05,178.48 L1439.56,178.67 L1441.07,178.87 L1442.57,179.06 L1444.07,179.22 L1445.57,179.32 L1447.05,179.34 L1448.53,179.27 L1449.98,179.08 L1451.43,178.78 L1452.87,178.39 L1454.30,177.94 L1455.74,177.48 L1457.18,177.04 L1458.63,176.66 L1460.09,176.35 L1461.58,176.14 L1463.07,176.00 L1464.57,175.93 L1466.08,175.91 L1467.59,175.94 L1469.11,175.99 L1470.61,176.07 L1472.12,176.16 L1473.62,176.27 L1475.11,176.38 L1476.61,176.50 L1478.10,176.63 L1479.59,176.76 L1481.08,176.90 L1482.56,177.04 L1484.05,177.18 L1485.54,177.32 L1487.02,177.46 L1488.51,177.60 L1490.01,177.72 L1491.50,177.85 L1493.00,177.96 L1494.50,178.07"/>
<path stroke="#0070c0" d="M907.30,172.90 L916.00,172.90 L916.04,172.89 L917.51,172.97 L918.99,173.08 L920.46,173.24 L921.93,173.44 L923.40,173.68 L924.87,173.96 L926.33,174.28 L927.78,174.63 L929.23,175.03 L930.67,175.46 L932.10,175.94 L933.52,176.44 L934.93,176.99 L936.32,177.57 L937.70,178.18 L939.06,178.84 L940.41,179.52 L941.74,180.24 L943.05,180.99 L944.34,181.78 L945.60,182.60 L946.85,183.45 L948.07,184.33 L949.26,185.25 L950.43,186.19 L951.57,187.16 L952.68,188.17 L953.76,189.20 L954.81,190.26 L955.83,191.35 L956.81,192.47 L957.75,193.61 L958.67,194.78 L959.54,195.98 L960.38,197.20 L961.18,198.45 L961.95,199.72 L962.68,201.01 L963.39,202.31 L964.06,203.64 L964.71,204.99 L965.33,206.35 L965.93,207.72 L966.50,209.11 L967.04,210.52 L967.57,211.93 L968.08,213.35 L968.56,214.78 L969.03,216.22 L969.48,217.67 L969.92,219.12 L970.34,220.57 L970.75,222.02 L971.15,223.48 L971.54,224.94 L971.92,226.39 L972.29,227.85 L972.65,229.31 L973.01,230.77 L973.35,232.23 L973.69,233.69 L974.01,235.15 L974.34,236.61 L974.65,238.07 L974.96,239.53 L975.26,241.00 L975.56,242.46 L975.85,243.92 L976.13,245.39 L976.42,246.85 L976.69,248.32 L976.97,249.79 L977.24,251.25 L977.51,252.72 L977.77,254.19 L978.04,255.66 L978.30,257.13 L978.56,258.60 L978.82,260.07 L979.08,261.54 L979.34,263.02 L979.60,264.49 L979.85,265.96 L980.11,267.44 L980.37,268.91 L980.62,270.39 L980.88,271.86 L981.13,273.34 L981.39,274.82 L981.64,276.29 L981.89,277.77 L982.14,279.25 L982.39,280.73 L982.64,282.21 L982.89,283.69 L983.14,285.17 L983.38,286.65 L983.63,288.13 L983.87,289.61 L984.12,291.09 L984.36,292.57 L984.60,294.05 L984.84,295.53 L985.08,297.02 L985.32,298.50 L985.55,299.98 L985.79,301.46 L986.02,302.95 L986.25,304.43 L986.48,305.91 L986.71,307.39 L986.94,308.88 L987.17,310.36 L987.39,311.84 L987.62,313.32 L987.84,314.81 L988.06,316.29 L988.28,317.77 L988.50,319.26 L988.72,320.74 L988.93,322.22 L989.15,323.70 L989.37,325.18 L989.59,326.66 L989.81,328.14 L990.04,329.62 L990.26,331.10 L990.49,332.58 L990.73,334.06 L990.97,335.53 L991.21,337.01 L991.46,338.48 L991.72,339.96 L991.98,341.43 L992.25,342.90 L992.53,344.37 L992.82,345.84 L993.11,347.30 L993.42,348.77 L993.73,350.23 L994.05,351.69 L994.38,353.15 L994.72,354.61 L995.06,356.07 L995.40,357.53 L995.73,358.99 L996.07,360.45 L996.39,361.91 L996.71,363.38 L997.02,364.85 L997.31,366.32 L997.59,367.79 L997.85,369.26 L998.12,370.74 L998.40,372.23 L998.72,373.72 L999.10,375.23 L999.55,376.73 L1000.09,378.25 L1000.74,379.77 L1001.47,381.12 L1002.24,381.99 L1003.01,382.09 L1003.73,381.36 L1004.41,380.05 L1005.03,378.40 L1005.57,376.66 L1006.04,375.00 L1006.44,373.41 L1006.78,371.88 L1007.07,370.40 L1007.33,368.95 L1007.56,367.54 L1007.78,366.13 L1007.99,364.73 L1008.20,363.31 L1008.43,361.88 L1008.67,360.42 L1008.93,358.96 L1009.19,357.48 L1009.47,355.99 L1009.75,354.49 L1010.04,352.99 L1010.33,351.50 L1010.62,350.01 L1010.91,348.53 L1011.19,347.06 L1011.48,345.59 L1011.77,344.14 L1012.06,342.69 L1012.35,341.25 L1012.64,339.81 L1012.94,338.37 L1013.25,336.92 L1013.56,335.48 L1013.89,334.03 L1014.22,332.57 L1014.56,331.10 L1014.92,329.63 L1015.28,328.14 L1015.67,326.64 L1016.06,325.12 L1016.48,323.59 L1016.95,322.07 L1017.50,320.61 L1018.18,319.26 L1019.03,318.05 L1020.08,317.03 L1021.31,316.28 L1022.65,315.93 L1024.02,316.08 L1025.32,316.70 L1026.48,317.66 L1027.43,318.82 L1028.15,320.13 L1028.70,321.54 L1029.13,323.04 L1029.47,324.58 L1029.77,326.14 L1030.09,327.69 L1030.44,329.21 L1030.83,330.69 L1031.25,332.14 L1031.69,333.57 L1032.14,334.98 L1032.60,336.39 L1033.04,337.79 L1033.47,339.19 L1033.88,340.60 L1034.26,342.02 L1034.63,343.45 L1035.00,344.88 L1035.36,346.32 L1035.74,347.76 L1036.12,349.20 L1036.53,350.64 L1036.97,352.09 L1037.44,353.53 L1037.95,354.97 L1038.51,356.40 L1039.14,357.83 L1039.82,359.25 L1040.57,360.67 L1041.41,362.07 L1042.32,363.44 L1043.28,364.58 L1044.26,365.25 L1045.21,365.22 L1046.12,364.49 L1046.95,363.29 L1047.72,361.88 L1048.40,360.44 L1049.01,358.99 L1049.55,357.53 L1050.03,356.07 L1050.45,354.61 L1050.83,353.14 L1051.16,351.67 L1051.45,350.19 L1051.72,348.71 L1051.97,347.24 L1052.20,345.76 L1052.42,344.28 L1052.64,342.80 L1052.87,341.32 L1053.11,339.84 L1053.37,338.37 L1053.64,336.90 L1053.94,335.43 L1054.24,333.96 L1054.55,332.50 L1054.87,331.03 L1055.20,329.57 L1055.52,328.11 L1055.85,326.64 L1056.17,325.18 L1056.48,323.71 L1056.80,322.25 L1057.11,320.78 L1057.42,319.32 L1057.73,317.85 L1058.04,316.38 L1058.35,314.92 L1058.66,313.45 L1058.96,311.99 L1059.26,310.52 L1059.57,309.05 L1059.87,307.59 L1060.17,306.12 L1060.47,304.65 L1060.77,303.19 L1061.08,301.72 L1061.38,300.25 L1061.68,298.79 L1061.99,297.32 L1062.29,295.85 L1062.59,294.39 L1062.90,292.92 L1063.21,291.45 L1063.52,289.99 L1063.83,288.52 L1064.14,287.06 L1064.46,285.59 L1064.77,284.12 L1065.09,282.66 L1065.42,281.19 L1065.74,279.73 L1066.07,278.27 L1066.40,276.80 L1066.73,275.34 L1067.07,273.87 L1067.41,272.41 L1067.76,270.95 L1068.11,269.49 L1068.47,268.03 L1068.83,266.57 L1069.21,265.12 L1069.61,263.68 L1070.02,262.23 L1070.44,260.80 L1070.89,259.37 L1071.35,257.95 L1071.84,256.54 L1072.36,255.14 L1072.90,253.75 L1073.46,252.38 L1074.06,251.01 L1074.69,249.66 L1075.36,248.32 L1076.06,247.00 L1076.79,245.69 L1077.55,244.39 L1078.33,243.10 L1079.13,241.82 L1079.94,240.54 L1080.75,239.27 L1081.55,237.99 L1082.35,236.72 L1083.15,235.44 L1083.93,234.16 L1084.72,232.88 L1085.49,231.60 L1086.27,230.32 L1087.04,229.04 L1087.81,227.75 L1088.58,226.47 L1089.34,225.19 L1090.11,223.91 L1090.88,222.63 L1091.65,221.35 L1092.42,220.07 L1093.20,218.79 L1093.98,217.52 L1094.77,216.24 L1095.56,214.97 L1096.36,213.71 L1097.17,212.44 L1097.98,211.18 L1098.81,209.92 L1099.64,208.67 L1100.49,207.42 L1101.34,206.18 L1102.22,204.95 L1103.12,203.74 L1104.06,202.56 L1105.03,201.43 L1106.05,200.35 L1107.12,199.34 L1108.24,198.39 L1109.44,197.52 L1110.71,196.75 L1112.05,196.07 L1113.46,195.49 L1114.92,194.99 L1116.40,194.55 L1117.89,194.18 L1119.35,193.84 L1120.81,193.52 L1122.25,193.20 L1123.69,192.84 L1125.13,192.42 L1126.58,191.93 L1128.03,191.42 L1129.48,190.93 L1130.94,190.51 L1132.40,190.22 L1133.85,190.10 L1135.30,190.21 L1136.74,190.51 L1138.18,190.95 L1139.63,191.44 L1141.08,191.92 L1142.54,192.32 L1144.00,192.57 L1145.48,192.68 L1146.97,192.67 L1148.47,192.56 L1149.97,192.39 L1151.47,192.16 L1152.98,191.90 L1154.49,191.64 L1155.99,191.40 L1157.50,191.18 L1159.00,191.01 L1160.50,190.86 L1161.99,190.75 L1163.49,190.65 L1164.98,190.58 L1166.48,190.52 L1167.97,190.48 L1169.46,190.45 L1170.95,190.42 L1172.45,190.40 L1173.94,190.38 L1175.43,190.36 L1176.92,190.33 L1178.42,190.29 L1179.91,190.24 L1181.41,190.17 L1182.91,190.08 L1184.41,189.97 L1185.92,189.83 L1187.42,189.70 L1188.92,189.59 L1190.41,189.52 L1191.90,189.51 L1193.38,189.58 L1194.85,189.75 L1196.30,190.01 L1197.75,190.36 L1199.19,190.78 L1200.62,191.24 L1202.05,191.74 L1203.47,192.25 L1204.89,192.76 L1206.31,193.25 L1207.73,193.72 L1209.15,194.18 L1210.56,194.64 L1211.97,195.11 L1213.37,195.60 L1214.77,196.12 L1216.17,196.68 L1217.55,197.27 L1218.92,197.90 L1220.28,198.57 L1221.62,199.26 L1222.95,200.00 L1224.25,200.77 L1225.53,201.57 L1226.79,202.41 L1228.02,203.28 L1229.22,204.19 L1230.38,205.13 L1231.52,206.11 L1232.62,207.12 L1233.68,208.16 L1234.71,209.23 L1235.71,210.33 L1236.67,211.47 L1237.61,212.62 L1238.52,213.80 L1239.40,215.00 L1240.27,216.23 L1241.11,217.47 L1241.92,218.72 L1242.73,220.00 L1243.51,221.28 L1244.28,222.58 L1245.04,223.88 L1245.78,225.20 L1246.52,226.51 L1247.25,227.84 L1247.97,229.16 L1248.69,230.49 L1249.40,231.82 L1250.10,233.15 L1250.79,234.48 L1251.48,235.82 L1252.15,237.16 L1252.80,238.51 L1253.45,239.86 L1254.07,241.21 L1254.68,242.58 L1255.27,243.95 L1255.84,245.33 L1256.39,246.72 L1256.92,248.11 L1257.43,249.51 L1257.92,250.92 L1258.39,252.34 L1258.84,253.77 L1259.28,255.20 L1259.71,256.63 L1260.11,258.07 L1260.51,259.52 L1260.90,260.97 L1261.27,262.43 L1261.63,263.88 L1261.99,265.35 L1262.33,266.81 L1262.67,268.28 L1263.00,269.75 L1263.33,271.22 L1263.65,272.69 L1263.97,274.16 L1264.29,275.63 L1264.60,277.11 L1264.92,278.58 L1265.23,280.05 L1265.55,281.52 L1265.87,282.99 L1266.19,284.46 L1266.52,285.92 L1266.85,287.38 L1267.19,288.84 L1267.54,290.30 L1267.88,291.75 L1268.24,293.20 L1268.60,294.65 L1268.96,296.09 L1269.32,297.54 L1269.69,298.98 L1270.06,300.42 L1270.44,301.86 L1270.81,303.30 L1271.19,304.74 L1271.57,306.18 L1271.95,307.62 L1272.33,309.05 L1272.71,310.49 L1273.09,311.93 L1273.47,313.37 L1273.85,314.81 L1274.23,316.25 L1274.61,317.69 L1274.98,319.13 L1275.36,320.57 L1275.73,322.02 L1276.10,323.47 L1276.46,324.92 L1276.82,326.37 L1277.18,327.82 L1277.53,329.28 L1277.88,330.74 L1278.22,332.20 L1278.56,333.67 L1278.89,335.14 L1279.21,336.62 L1279.53,338.09 L1279.84,339.58 L1280.15,341.06 L1280.45,342.55 L1280.74,344.05 L1281.02,345.54 L1281.30,347.04 L1281.58,348.54 L1281.85,350.04 L1282.12,351.54 L1282.38,353.05 L1282.64,354.55 L1282.90,356.05 L1283.15,357.55 L1283.41,359.05 L1283.66,360.54 L1283.91,362.03 L1284.16,363.52 L1284.41,365.00 L1284.66,366.48 L1284.91,367.95 L1285.17,369.42 L1285.42,370.88 L1285.68,372.34 L1285.94,373.79 L1286.20,375.23 L1286.46,376.66 L1286.73,378.08 L1287.01,379.49 L1287.29,380.90 L1287.57,382.29 L1287.86,383.67 L1288.16,385.04 L1288.46,386.40 L1288.77,387.76 L1289.10,389.11 L1289.44,390.47 L1289.80,391.84 L1290.17,393.22 L1290.57,394.62 L1290.99,396.05 L1291.43,397.51 L1291.91,399.00 L1292.41,400.52 L1292.95,402.10 L1293.53,403.72 L1294.14,405.39 L1294.79,407.12 L1295.48,408.89 L1296.21,410.63 L1296.98,412.29 L1297.77,413.79 L1298.60,415.08 L1299.46,416.08 L1300.33,416.74 L1301.23,416.98 L1302.15,416.76 L1303.08,416.13 L1304.00,415.14 L1304.90,413.88 L1305.78,412.41 L1306.61,410.80 L1307.40,409.14 L1308.11,407.47 L1308.76,405.86 L1309.35,404.28 L1309.87,402.75 L1310.34,401.25 L1310.77,399.78 L1311.15,398.34 L1311.49,396.91 L1311.80,395.51 L1312.09,394.11 L1312.35,392.71 L1312.60,391.32 L1312.84,389.93 L1313.07,388.52 L1313.30,387.11 L1313.52,385.69 L1313.74,384.26 L1313.96,382.82 L1314.17,381.38 L1314.38,379.92 L1314.59,378.46 L1314.79,377.00 L1314.99,375.53 L1315.19,374.05 L1315.38,372.57 L1315.58,371.08 L1315.77,369.59 L1315.95,368.09 L1316.14,366.59 L1316.32,365.09 L1316.50,363.58 L1316.68,362.07 L1316.86,360.56 L1317.03,359.05 L1317.21,357.54 L1317.38,356.03 L1317.55,354.51 L1317.72,353.00 L1317.89,351.48 L1318.06,349.97 L1318.22,348.46 L1318.39,346.94 L1318.55,345.44 L1318.72,343.93 L1318.88,342.42 L1319.04,340.92 L1319.21,339.43 L1319.37,337.93 L1319.53,336.44 L1319.69,334.96 L1319.86,333.48 L1320.02,332.00 L1320.18,330.52 L1320.34,329.05 L1320.50,327.58 L1320.66,326.11 L1320.82,324.64 L1320.97,323.18 L1321.13,321.71 L1321.28,320.24 L1321.43,318.76 L1321.57,317.29 L1321.72,315.81 L1321.86,314.33 L1321.99,312.85 L1322.13,311.36 L1322.25,309.86 L1322.38,308.36 L1322.50,306.85 L1322.62,305.33 L1322.73,303.81 L1322.83,302.28 L1322.94,300.74 L1323.03,299.19 L1323.13,297.65 L1323.22,296.10 L1323.30,294.55 L1323.39,293.00 L1323.48,291.46 L1323.56,289.93 L1323.65,288.40 L1323.73,286.89 L1323.82,285.39 L1323.90,283.91 L1324.00,282.44 L1324.09,280.99 L1324.19,279.57 L1324.29,278.17 L1324.39,276.80 L1324.50,275.45 L1324.62,274.13 L1324.74,272.82 L1324.86,271.52 L1324.99,270.22 L1325.12,268.91 L1325.25,267.59 L1325.37,266.24 L1325.50,264.87 L1325.63,263.46 L1325.75,262.01 L1325.87,260.50 L1325.99,258.94 L1326.10,257.31 L1326.21,255.61 L1326.31,253.83 L1326.40,251.95 L1326.48,249.99 L1326.56,247.92 L1326.64,245.80 L1326.74,243.67 L1326.87,241.59 L1327.04,239.59 L1327.28,237.74 L1327.58,236.08 L1327.97,234.67 L1328.45,233.54 L1329.05,232.77 L1329.77,232.38 L1330.64,232.44 L1331.64,232.97 L1332.71,233.90 L1333.76,235.12 L1334.71,236.53 L1335.51,238.05 L1336.16,239.62 L1336.72,241.20 L1337.23,242.77 L1337.74,244.27 L1338.28,245.68 L1338.92,246.95 L1339.69,248.05 L1340.62,248.94 L1341.61,249.47 L1342.50,249.46 L1343.21,248.89 L1343.78,247.86 L1344.23,246.45 L1344.60,244.77 L1344.90,242.90 L1345.17,240.95 L1345.43,239.00 L1345.71,237.14 L1346.02,235.40 L1346.34,233.78 L1346.69,232.24 L1347.04,230.78 L1347.39,229.38 L1347.75,228.03 L1348.09,226.70 L1348.43,225.38 L1348.74,224.06 L1349.03,222.71 L1349.30,221.33 L1349.54,219.92 L1349.76,218.48 L1349.98,217.02 L1350.19,215.55 L1350.40,214.05 L1350.63,212.55 L1350.86,211.04 L1351.12,209.53 L1351.41,208.02 L1351.72,206.52 L1352.08,205.03 L1352.48,203.56 L1352.94,202.10 L1353.45,200.67 L1354.02,199.26 L1354.65,197.89 L1355.35,196.55 L1356.10,195.25 L1356.92,193.99 L1357.80,192.78 L1358.73,191.61 L1359.74,190.50 L1360.80,189.44 L1361.92,188.45 L1363.11,187.51 L1364.36,186.64 L1365.67,185.85 L1367.04,185.16 L1368.45,184.63 L1369.89,184.29 L1371.35,184.21 L1372.83,184.32 L1374.30,184.49 L1375.77,184.57 L1377.22,184.42 L1378.65,184.05 L1380.08,183.59 L1381.51,183.16 L1382.96,182.90 L1384.43,182.91 L1385.91,183.12 L1387.40,183.43 L1388.88,183.71 L1390.35,183.86 L1391.79,183.78 L1393.20,183.43 L1394.59,182.92 L1395.99,182.34 L1397.40,181.79 L1398.84,181.39 L1400.31,181.13 L1401.80,180.97 L1403.30,180.85 L1404.81,180.74 L1406.30,180.59 L1407.79,180.35 L1409.27,180.08 L1410.74,179.82 L1412.22,179.62 L1413.70,179.54 L1415.19,179.57 L1416.69,179.67 L1418.19,179.78 L1419.69,179.85 L1421.18,179.86 L1422.67,179.75 L1424.15,179.55 L1425.63,179.30 L1427.10,179.02 L1428.58,178.75 L1430.07,178.51 L1431.56,178.33 L1433.05,178.22 L1434.55,178.17 L1436.05,178.16 L1437.55,178.20 L1439.05,178.28 L1440.55,178.38 L1442.05,178.50 L1443.54,178.60 L1445.04,178.69 L1446.54,178.74 L1448.03,178.74 L1449.53,178.67 L1451.03,178.53 L1452.53,178.34 L1454.02,178.13 L1455.51,177.95 L1457.00,177.82 L1458.48,177.78 L1459.96,177.87 L1461.42,178.07 L1462.89,178.35 L1464.35,178.65 L1465.82,178.92 L1467.29,179.11 L1468.77,179.21 L1470.26,179.22 L1471.75,179.17 L1473.24,179.07 L1474.74,178.93 L1476.24,178.76 L1477.74,178.59 L1479.25,178.42 L1480.75,178.27 L1482.25,178.16 L1483.75,178.09 L1485.25,178.08 L1486.75,178.16 L1488.24,178.32 L1489.73,178.58 L1491.21,178.85 L1492.70,178.85 L1494.20,178.30"/>
</g>
<path d="M974.50,343.60 L974.50,403.00" stroke="#4f86c6" stroke-width="1.3" stroke-dasharray="5.4 5.6" stroke-dashoffset="0" fill="none"/>
<path d="M994.10,370.10 L994.10,419.00" stroke="#4f86c6" stroke-width="1.3" stroke-dasharray="5.5 5.4" stroke-dashoffset="0" fill="none"/>
<path d="M974.50,403.30 L994.50,403.30" stroke="#d98088" stroke-width="1.1" fill="none"/>
<polygon points="993.60,399.20 1002.80,403.40 993.60,407.90" fill="#c00000"/>
<path d="M1002.60,384.70 L1002.60,412.00" stroke="#262626" stroke-width="1.8" stroke-dasharray="5.6 5.3" stroke-dashoffset="0" fill="none"/>
<path d="M994.80,421.00 L1039.50,421.00" stroke="#d98088" stroke-width="1.1" fill="none"/>
<polygon points="1038.90,416.80 1047.50,421.00 1038.90,425.40" fill="#c00000"/>
<path d="M1045.30,366.50 L1045.30,414.80" stroke="#262626" stroke-width="1.8" stroke-dasharray="5.6 5.1" stroke-dashoffset="0" fill="none"/>
<path d="M1258.00,282.60 L1276.00,282.60" stroke="#a9c1e0" stroke-width="1.0" stroke-dasharray="2.5 2.8" stroke-dashoffset="0" fill="none"/>
<path d="M1258.10,282.80 L1258.10,413.00" stroke="#a8323a" stroke-width="1.1" fill="none"/>
<polygon points="1253.80,412.00 1262.60,412.00 1258.20,420.60" fill="#c00000"/>
<path d="M1260.00,420.70 L1304.70,420.70" stroke="#262626" stroke-width="1.6" stroke-dasharray="6 4.6" stroke-dashoffset="4" fill="none"/>
<path d="M1332.00,250.80 L1356.30,250.80" stroke="#262626" stroke-width="1.6" stroke-dasharray="5.8 4.6" stroke-dashoffset="2.8" fill="none"/>
<path d="M1340.60,484.00 L1340.60,261.00" stroke="#a8323a" stroke-width="1.1" fill="none"/>
<polygon points="1336.40,261.70 1344.90,261.70 1340.60,253.40" fill="#c00000"/>
<path d="M1332.80,484.10 L1357.10,484.10" stroke="#4f86c6" stroke-width="1.3" stroke-dasharray="5.8 4.9" stroke-dashoffset="3.3" fill="none"/>
<g stroke-width="3.4" stroke-linecap="round">
<path stroke="#ff0000" d="M916.90,470.30 H946.30"/>
<path stroke="#0070c0" d="M916.90,514.00 H946.30"/>
</g>
<text x="950.60" y="478.90" font-size="28.5">30 sec</text>
<text x="950.60" y="522.80" font-size="28.5">60 min</text>
<text x="794.30" y="22.80" font-size="27">b</text>
<text x="1104.80" y="46.10" font-size="25" text-anchor="middle">T</text>
<text x="1124.50" y="46.10" font-size="25" text-anchor="middle">(</text>
<text x="1150.00" y="46.10" font-size="25" text-anchor="middle">C</text>
<text x="1162.95" y="46.10" font-size="25" text-anchor="middle">)</text>
<circle cx="1134.00" cy="31.00" r="2.0" fill="none" stroke="#000" stroke-width="1.5"/>
<text transform="translate(731.50,285.20) rotate(-90)" font-size="24.5" text-anchor="middle">d%m/dT</text>
</svg></body></html>
